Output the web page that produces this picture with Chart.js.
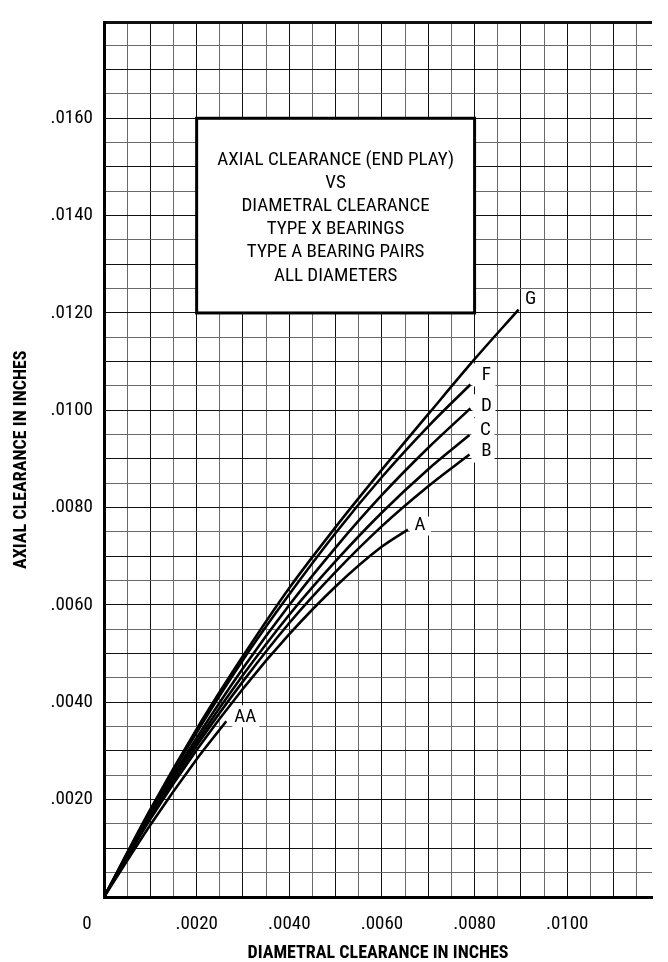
<!DOCTYPE html>
<html><head><meta charset="utf-8">
<script src="https://cdn.jsdelivr.net/npm/chart.js@4.4.1/dist/chart.umd.min.js"></script>
<style>html,body{margin:0;padding:0;background:#fff;overflow:hidden}#wrap{width:668px;height:962px;position:relative}</style>
</head><body><div id="wrap"><canvas id="c" width="668" height="962"></canvas></div>
<script>
// ---- data (inches) ----
const curveNames = ['G', 'F', 'D', 'C', 'B', 'A', 'AA'];
const gX = [0, 0.001, 0.002, 0.003, 0.004, 0.005, 0.006, 0.007, 0.008, 0.00895];
const gY = [0, 0.00180, 0.00345, 0.00495, 0.00635, 0.00760, 0.00878, 0.00992, 0.01105, 0.01207];
const fX = [0, 0.001, 0.002, 0.003, 0.004, 0.005, 0.006, 0.007, 0.00791];
const fY = [0, 0.00177, 0.00338, 0.00487, 0.00622, 0.00748, 0.00863, 0.00967, 0.01053];
const dX = [0, 0.001, 0.002, 0.003, 0.004, 0.005, 0.006, 0.007, 0.00791];
const dY = [0, 0.00172, 0.00327, 0.00470, 0.00600, 0.00718, 0.00826, 0.00923, 0.01004];
const cX = [0, 0.001, 0.002, 0.003, 0.004, 0.005, 0.006, 0.007, 0.00789];
const cY = [0, 0.00168, 0.00319, 0.00456, 0.00580, 0.00690, 0.00790, 0.00879, 0.00949];
const bX = [0, 0.001, 0.002, 0.003, 0.004, 0.005, 0.006, 0.007, 0.00789];
const bY = [0, 0.00164, 0.00311, 0.00443, 0.00563, 0.00668, 0.00762, 0.00844, 0.00909];
const aX = [0, 0.001, 0.002, 0.003, 0.004, 0.005, 0.006, 0.00656];
const aY = [0, 0.00160, 0.00302, 0.00428, 0.00540, 0.00638, 0.00720, 0.00755];
const aaX = [0, 0.001, 0.002, 0.00264];
const aaY = [0, 0.00148, 0.00283, 0.00361];

const xTickValues = [0.002, 0.004, 0.006, 0.008, 0.010];
const xTickLabels = ['.0020', '.0040', '.0060', '.0080', '.0100'];
const yTickValues = [0.002, 0.004, 0.006, 0.008, 0.010, 0.012, 0.014, 0.016];
const yTickLabels = ['.0020', '.0040', '.0060', '.0080', '.0100', '.0120', '.0140', '.0160'];
const originLabel = '0';
const xTitle = 'DIAMETRAL CLEARANCE IN INCHES';
const yTitle = 'AXIAL CLEARANCE IN INCHES';
const boxLines = ['AXIAL CLEARANCE (END PLAY)', 'VS', 'DIAMETRAL CLEARANCE', 'TYPE X BEARINGS', 'TYPE A BEARING PAIRS', 'ALL DIAMETERS'];
const boxXRange = [0.002, 0.008];
const boxYRange = [0.012, 0.016];
const X_MAX = 0.01183, Y_MAX = 0.01797, GRID_STEP = 0.0005;

// ---- styling ----
const FONT = '"Liberation Sans Narrow","Arial Narrow","Roboto Condensed","DejaVu Sans Condensed",sans-serif';
const seriesX = [gX, fX, dX, cX, bX, aX, aaX];
const seriesY = [gY, fY, dY, cY, bY, aY, aaY];
const datasets = curveNames.map((n, i) => ({
  label: n,
  data: seriesX[i].map((v, j) => ({x: v, y: seriesY[i][j]})),
  borderColor: '#000', borderWidth: 2.6, pointRadius: 0, fill: false,
  cubicInterpolationMode: 'monotone'
}));

function lookup(vals, labels, v) {
  for (let i = 0; i < vals.length; i++) if (Math.abs(vals[i] - v) < 1e-9) return labels[i];
  return '';
}
function gridTicks(scale, max) {
  const t = [];
  const n = Math.floor(max / GRID_STEP + 1e-6);
  for (let i = 0; i <= n; i++) t.push({value: +(i * GRID_STEP).toFixed(5)});
  if (Math.abs(n * GRID_STEP - max) > 1e-7) t.push({value: max});
  scale.ticks = t;
}
function isMajor(v) { return Math.abs(Math.round(v * 1000) - v * 1000) < 1e-6; }

// label offsets from curve end (px) and white background boxes
const labelStyle = {
  G: {dx: 12, dy: -10, bg: null},
  F: {dx: 16, dy: -9, bg: [-14, -12, 23, 23]},
  D: {dx: 16, dy: -2, bg: [-14, -12, 23, 23]},
  C: {dx: 16, dy: -5, bg: [-14, -12, 23, 23]},
  B: {dx: 17, dy: -3, bg: [-15, -12, 23, 23]},
  A: {dx: 12, dy: -4, bg: [-10, -9, 21, 19]},
  AA: {dx: 19, dy: -4, bg: [-13, -12, 27, 22]}
};

const overlay = {
  id: 'overlay',
  beforeDatasetsDraw(chart) {
    const {ctx, scales: {x, y}} = chart;
    const l = x.getPixelForValue(boxXRange[0]), r = x.getPixelForValue(boxXRange[1]);
    const t = y.getPixelForValue(boxYRange[1]), b = y.getPixelForValue(boxYRange[0]);
    ctx.save();
    ctx.fillStyle = '#fff';
    ctx.fillRect(l, t, r - l, b - t);
    ctx.lineWidth = 3; ctx.strokeStyle = '#000';
    ctx.strokeRect(l, t, r - l, b - t);
    ctx.fillStyle = '#000';
    ctx.font = '19px ' + FONT;
    ctx.textAlign = 'center'; ctx.textBaseline = 'middle';
    const cx = (l + r) / 2;
    boxLines.forEach((s, i) => ctx.fillText(s, cx, t + 42 + i * 23.1));
    ctx.restore();
  },
  afterDatasetsDraw(chart) {
    const {ctx, scales: {x, y}} = chart;
    ctx.save();
    ctx.font = '19px ' + FONT;
    ctx.textAlign = 'center'; ctx.textBaseline = 'middle';
    chart.data.datasets.forEach((ds, i) => {
      const meta = chart.getDatasetMeta(i);
      const pt = meta.data[meta.data.length - 1];
      const st = labelStyle[ds.label];
      const px = pt.x + st.dx, py = pt.y + st.dy;
      if (st.bg) {
        ctx.fillStyle = '#fff';
        ctx.fillRect(px + st.bg[0], py + st.bg[1], st.bg[2], st.bg[3]);
      }
      ctx.fillStyle = '#000';
      ctx.fillText(ds.label, px, py);
    });
    // shared origin label
    ctx.fillText(originLabel, x.getPixelForValue(0) - 17, y.bottom + 27);
    ctx.restore();
  }
};

new Chart(document.getElementById('c'), {
  type: 'line',
  data: {datasets},
  options: {
    responsive: false, animation: false, devicePixelRatio: 1,
    layout: {autoPadding: false, padding: {top: 13, left: 0, right: 0, bottom: 0}},
    plugins: {legend: {display: false}, tooltip: {enabled: false}},
    scales: {
      x: {
        type: 'linear', min: 0, max: X_MAX,
        afterBuildTicks: s => gridTicks(s, X_MAX),
        afterFit: s => { s.height = 65; },
        grid: {
          drawTicks: false,
          color: c => isMajor(c.tick.value) ? '#111' : '#6a6a6a',
          lineWidth: c => (Math.abs(c.tick.value - X_MAX) < 1e-7 ? 0 : 1)
        },
        border: {display: true, color: '#000', width: 3},
        ticks: {
          autoSkip: false, maxRotation: 0, padding: 16, color: '#000',
          font: {family: FONT, size: 19},
          callback: v => lookup(xTickValues, xTickLabels, v)
        },
        title: {display: true, text: xTitle, color: '#000',
          font: {family: FONT, size: 18, weight: 'bold', lineHeight: 1}, padding: {top: 0, bottom: 0}}
      },
      y: {
        type: 'linear', min: 0, max: Y_MAX,
        afterBuildTicks: s => gridTicks(s, Y_MAX),
        afterFit: s => { s.width = 104; },
        grid: {
          drawTicks: false,
          color: c => (Math.abs(c.tick.value - Y_MAX) < 1e-7 || isMajor(c.tick.value)) ? '#111' : '#6a6a6a',
          lineWidth: c => (Math.abs(c.tick.value - Y_MAX) < 1e-7 ? 3 : 1)
        },
        border: {display: true, color: '#000', width: 3},
        ticks: {
          autoSkip: false, padding: 11, color: '#000',
          font: {family: FONT, size: 19},
          callback: v => lookup(yTickValues, yTickLabels, v)
        },
        title: {display: true, text: yTitle, color: '#000',
          font: {family: FONT, size: 18, weight: 'bold', lineHeight: 1}, padding: {top: 12, bottom: 0}}
      }
    }
  },
  plugins: [overlay]
});
</script>
</body></html>
